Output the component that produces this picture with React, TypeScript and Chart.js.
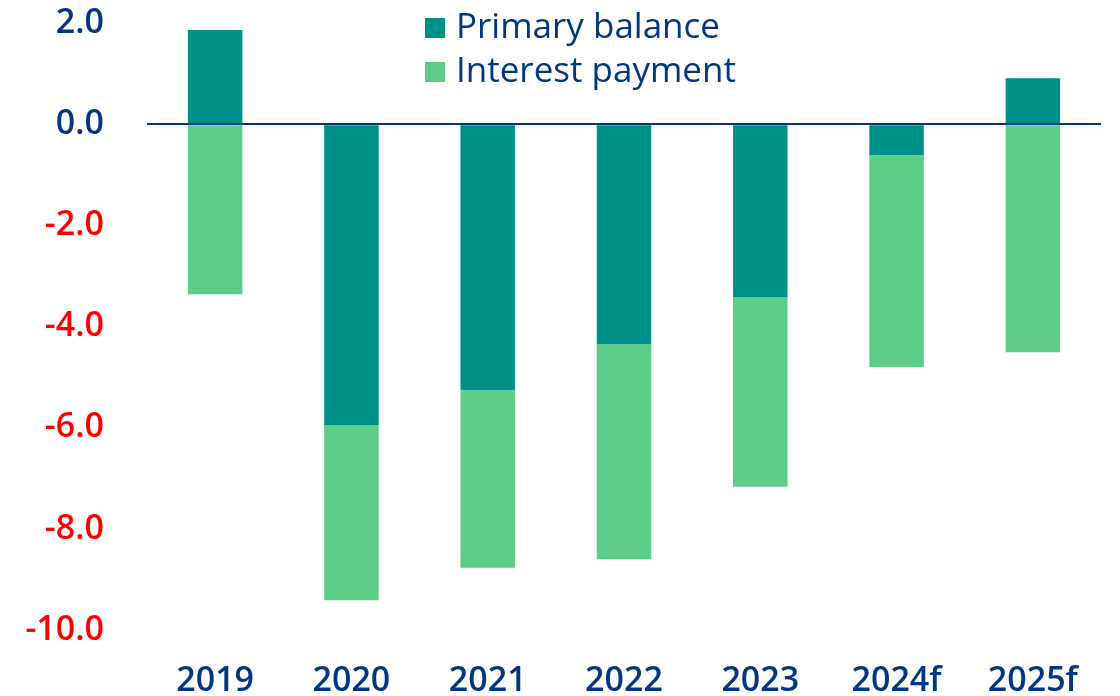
import React, { useEffect, useRef } from "react";
import { Chart, registerables } from "chart.js";

Chart.register(...registerables);

const categories = ["2019", "2020", "2021", "2022", "2023", "2024f", "2025f"];
const primaryBalance = [1.86, -5.95, -5.26, -4.35, -3.42, -0.61, 0.91];
const interestPayment = [-3.36, -3.46, -3.51, -4.25, -3.75, -4.19, -4.51];
const seriesNames = ["Primary balance", "Interest payment"];
const yTickValues = [2, 0, -2, -4, -6, -8, -10];

const NAVY = "#003781";
const RED = "#ff0000";
const TEAL = "#00908a";
const LIGHT_GREEN = "#5fcd8a";
const FONT_FAMILY = "'Open Sans', 'DejaVu Sans', sans-serif";

const stackLegend = {
  id: "stackLegend",
  afterDraw(chart: any, _args: any, opts: any) {
    const ctx = chart.ctx;
    ctx.save();
    chart.data.datasets.forEach((ds: any, i: number) => {
      const baseY = opts.baseline + i * opts.rowGap;
      ctx.fillStyle = ds.backgroundColor;
      ctx.fillRect(opts.left, baseY - opts.boxOffset, opts.box, opts.box);
      ctx.fillStyle = opts.color;
      ctx.font = opts.font;
      ctx.textBaseline = "alphabetic";
      ctx.textAlign = "left";
      ctx.fillText(ds.label, opts.left + opts.box + opts.gap, baseY);
    });
    ctx.restore();
  },
};

export default function App() {
  const ref = useRef<HTMLCanvasElement | null>(null);

  useEffect(() => {
    if (!ref.current) return;
    const chart = new Chart(ref.current, {
      type: "bar",
      data: {
        labels: categories,
        datasets: [
          {
            label: seriesNames[0],
            data: primaryBalance,
            backgroundColor: TEAL,
            barPercentage: 0.4,
            categoryPercentage: 1,
          },
          {
            label: seriesNames[1],
            data: interestPayment,
            backgroundColor: LIGHT_GREEN,
            barPercentage: 0.4,
            categoryPercentage: 1,
          },
        ],
      },
      options: {
        responsive: false,
        animation: false,
        layout: { padding: { top: 23, right: 19, left: 0, bottom: 0 } },
        plugins: {
          legend: { display: false },
          tooltip: { enabled: false },
          stackLegend: {
            left: 425,
            baseline: 38,
            rowGap: 44,
            box: 20,
            boxOffset: 20,
            gap: 11,
            color: NAVY,
            font: `400 35px ${FONT_FAMILY}`,
          },
        } as any,
        scales: {
          x: {
            stacked: true,
            grid: { display: false, drawTicks: false },
            border: { display: false },
            ticks: {
              color: NAVY,
              padding: 31,
              font: { family: FONT_FAMILY, size: 34, weight: 600 as any },
            },
            afterFit(scale: any) {
              scale.height = 66;
              scale.paddingLeft = 0;
              scale.paddingRight = 0;
            },
          },
          y: {
            stacked: true,
            min: -10,
            max: 2,
            afterBuildTicks(scale: any) {
              scale.ticks = yTickValues.map((v) => ({ value: v }));
            },
            afterFit(scale: any) {
              scale.width = 147;
              scale.paddingTop = 0;
              scale.paddingBottom = 0;
            },
            grid: {
              drawTicks: false,
              color: (c: any) => (c.tick && c.tick.value === 0 ? NAVY : "rgba(0,0,0,0)"),
              lineWidth: (c: any) => (c.tick && c.tick.value === 0 ? 2 : 0),
            },
            border: { display: false },
            ticks: {
              padding: 43,
              color: (c: any) => (c.tick && c.tick.value < 0 ? RED : NAVY),
              font: { family: FONT_FAMILY, size: 34, weight: 600 as any },
              callback: (v: any) => Number(v).toFixed(1),
            },
          },
        },
      },
      plugins: [stackLegend],
    });
    return () => chart.destroy();
  }, []);

  return (
    <div style={{ position: "absolute", left: 0, top: 0, width: 1120, height: 696, background: "#fff" }}>
      <canvas ref={ref} width={1120} height={696} />
    </div>
  );
}
